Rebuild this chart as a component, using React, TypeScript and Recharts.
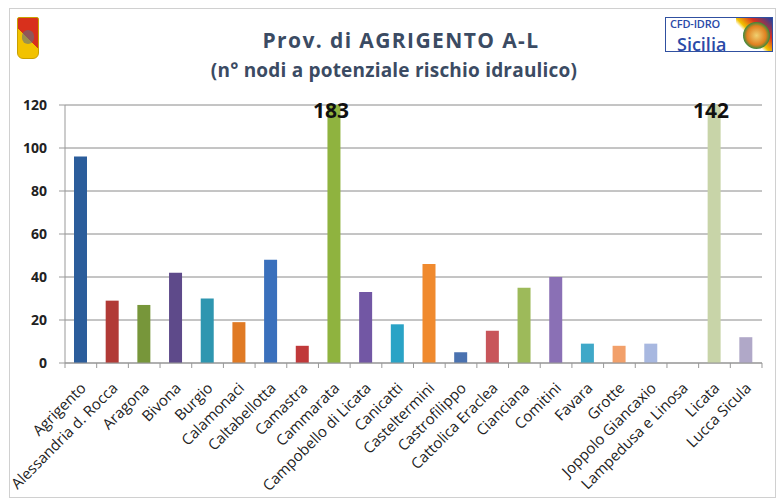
import React from "react";
import { BarChart, Bar, XAxis, YAxis, CartesianGrid, Cell, LabelList } from "recharts";

const comuni = [
  "Agrigento",
  "Alessandria d. Rocca",
  "Aragona",
  "Bivona",
  "Burgio",
  "Calamonaci",
  "Caltabellotta",
  "Camastra",
  "Cammarata",
  "Campobello di Licata",
  "Canicatti",
  "Casteltermini",
  "Castrofilippo",
  "Cattolica Eraclea",
  "Cianciana",
  "Comitini",
  "Favara",
  "Grotte",
  "Joppolo Giancaxio",
  "Lampedusa e Linosa",
  "Licata",
  "Lucca Sicula",
];

const nodi = [96, 29, 27, 42, 30, 19, 48, 8, 183, 33, 18, 46, 5, 15, 35, 40, 9, 8, 9, 0, 142, 12];

const barColors = [
  "#2b5d9b", "#b13a36", "#77963a", "#5e4a8a", "#2e96b0", "#e07a24",
  "#3a70bc", "#c0393a", "#8fb33f", "#7257a4", "#2aa3c6", "#f08a2e",
  "#4a72b0", "#c8555a", "#9dba5a", "#8a70b5", "#3fa8c8", "#f2a06a",
  "#a8b8e0", "#e8b0b0", "#c8d4a8", "#b0a8c8",
];

const yTicks = [0, 20, 40, 60, 80, 100, 120];

const data = comuni.map((nome, i) => ({ nome, nodi: nodi[i] }));

const FONT = "'Open Sans', 'DejaVu Sans', sans-serif";

function XTick(props: any) {
  const { x, y, payload, index } = props;
  const half = 31.68 / 2;
  const tx = x + 6;
  const ty = y + 26;
  return (
    <g>
      <line x1={x - half} y1={y} x2={x - half} y2={y + 5} stroke="#999" />
      {index === comuni.length - 1 ? (
        <line x1={x + half} y1={y} x2={x + half} y2={y + 5} stroke="#999" />
      ) : null}
      <text
        x={tx}
        y={ty}
        textAnchor="end"
        transform={`rotate(-45 ${tx} ${ty})`}
        fontSize={15}
        fontFamily={FONT}
        fill="#222"
      >
        {payload.value}
      </text>
    </g>
  );
}

function OverflowLabel(props: any) {
  const { x, width, value } = props;
  if (value <= 120) return null;
  return (
    <text
      x={x + width / 2 - 3}
      y={118}
      textAnchor="middle"
      fontSize={21}
      fontWeight="bold"
      fontFamily={FONT}
      fill="#111"
    >
      {value}
    </text>
  );
}

function LogoSicilia() {
  return (
    <div
      style={{
        position: "absolute",
        left: 17,
        top: 17,
        width: 20,
        height: 40,
        borderRadius: "2px 2px 6px 6px",
        background: "linear-gradient(45deg, #f2c200 0%, #f2c200 50%, #d8301c 50%, #d8301c 100%)",
        border: "1px solid #c9a000",
      }}
    >
      <div
        style={{
          position: "absolute",
          left: 4,
          top: 12,
          width: 12,
          height: 14,
          borderRadius: 6,
          background: "#607080",
          opacity: 0.6,
        }}
      />
    </div>
  );
}

function LogoCfd() {
  return (
    <div
      style={{
        position: "absolute",
        left: 665,
        top: 17,
        width: 108,
        height: 35,
        border: "1px solid #3050a0",
        background: "#fff",
        boxSizing: "border-box",
        fontFamily: FONT,
        color: "#2a4aa8",
      }}
    >
      <div
        style={{
          position: "absolute",
          right: 0,
          top: 0,
          width: 36,
          height: 33,
          background: "linear-gradient(45deg, #ffffff 0%, #ffffff 40%, #f2c200 48%, #d83020 70%, #2040a0 100%)",
        }}
      />
      <div
        style={{
          position: "absolute",
          left: 4,
          top: -0.5,
          fontSize: 11,
          fontWeight: 600,
          lineHeight: "12px",
          letterSpacing: -0.2,
        }}
      >
        CFD-IDRO
      </div>
      <div
        style={{
          position: "absolute",
          left: 11,
          top: 17,
          fontSize: 18,
          fontWeight: 600,
          lineHeight: "18px",
        }}
      >
        Sicilia
      </div>
      <div
        style={{
          position: "absolute",
          left: 77,
          top: 4,
          width: 27,
          height: 27,
          borderRadius: 14,
          background: "radial-gradient(circle, #f0d070 0%, #e08020 50%, #2a8a40 72%, #1a4aa0 100%)",
        }}
      />
    </div>
  );
}

export default function App() {
  return (
    <div
      style={{
        position: "absolute",
        left: 0,
        top: 0,
        width: 779,
        height: 503,
        background: "#fff",
        fontFamily: FONT,
      }}
    >
      <div
        style={{
          position: "absolute",
          left: 9,
          top: 8,
          width: 767,
          height: 490,
          border: "1px solid #d0d0d0",
          boxSizing: "border-box",
        }}
      />
      <LogoSicilia />
      <LogoCfd />
      <div
        style={{
          position: "absolute",
          left: 0,
          top: 25,
          width: 802,
          textAlign: "center",
          fontWeight: "bold",
          color: "#3b4b63",
        }}
      >
        <div style={{ fontSize: 21, letterSpacing: 1.4, lineHeight: "30px" }}>
          Prov. di AGRIGENTO A-L
        </div>
        <div style={{ fontSize: 19, letterSpacing: 0.2, lineHeight: "30px", marginRight: 14 }}>
          (n° nodi a potenziale rischio idraulico)
        </div>
      </div>
      <div style={{ position: "absolute", left: 0, top: 0 }}>
        <BarChart
          width={779}
          height={503}
          data={data}
          margin={{ top: 105, right: 17, bottom: 0, left: 0 }}
          barCategoryGap={0}
        >
          <CartesianGrid vertical={false} stroke="#8a8a8a" />
          <YAxis
            width={65}
            domain={[0, 120]}
            ticks={yTicks}
            allowDataOverflow
            axisLine={{ stroke: "#999" }}
            tickLine={{ stroke: "#999" }}
            tickSize={6}
            tickMargin={12}
            tick={{ fontSize: 14, fontWeight: "bold", fill: "#222", fontFamily: FONT }}
          />
          <XAxis
            dataKey="nome"
            interval={0}
            height={140}
            axisLine={{ stroke: "#999" }}
            tickLine={false}
            tickSize={0}
            tickMargin={0}
            tick={<XTick />}
          />
          <Bar dataKey="nodi" barSize={13} isAnimationActive={false}>
            {data.map((d, i) => (
              <Cell key={d.nome} fill={barColors[i]} />
            ))}
            <LabelList dataKey="nodi" content={<OverflowLabel />} />
          </Bar>
        </BarChart>
      </div>
    </div>
  );
}
